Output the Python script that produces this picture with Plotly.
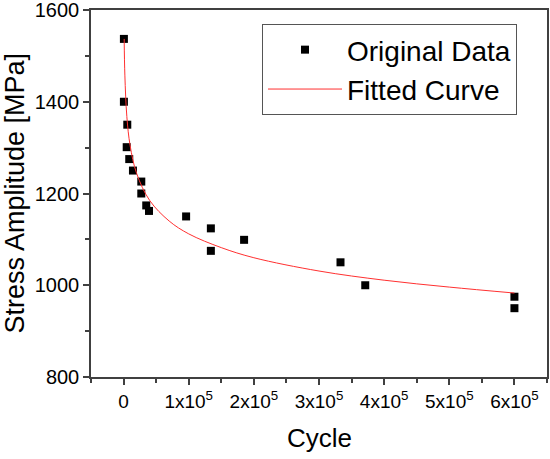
import plotly.graph_objects as go

# Data
cycles = [500, 500, 5700, 4800, 8700, 14400, 27200, 27200, 34800, 39000,
          96000, 134000, 134000, 185000, 333000, 371000, 600000, 600000]
stress = [1537, 1400, 1350, 1301, 1275, 1250, 1226, 1200, 1174, 1162,
          1150, 1124, 1075, 1099, 1050, 1000, 975, 950]

curve_cycles = [900, 2000, 5000, 10000, 20000, 40000, 70000, 100000,
                150000, 200000, 300000, 400000, 500000, 600000]
curve_stress = [1537, 1458, 1368, 1305, 1244, 1185, 1140, 1112,
                1082, 1060, 1031, 1011, 996, 983]

x_tickvals = [0, 100000, 200000, 300000, 400000, 500000, 600000]
x_ticktext = ["0", "1x10<sup>5</sup>", "2x10<sup>5</sup>", "3x10<sup>5</sup>",
              "4x10<sup>5</sup>", "5x10<sup>5</sup>", "6x10<sup>5</sup>"]

x_title = "Cycle"
y_title = "Stress Amplitude [MPa]"

FONT = "Arial, Liberation Sans, sans-serif"
AXC = "#404040"

W, H = 550, 459
ML, MR, MT, MB = 91, 3, 10, 82

fig = go.Figure()
fig.add_trace(go.Scatter(
    x=cycles, y=stress, mode="markers", name="Original Data",
    marker=dict(symbol="square", size=8, color="black"),
))
fig.add_trace(go.Scatter(
    x=curve_cycles, y=curve_stress, mode="lines", name="Fitted Curve",
    line=dict(color="#ff3030", width=1, shape="spline"),
))

plot_h = H - MT - MB
fig.update_layout(
    width=W, height=H,
    margin=dict(l=ML, r=MR, t=MT, b=MB, autoexpand=False),
    paper_bgcolor="white", plot_bgcolor="white",
    font=dict(family=FONT, color="black"),
    showlegend=True,
    legend=dict(
        x=0.375, y=0.962, xanchor="left", yanchor="top",
        bgcolor="white", bordercolor="#555555", borderwidth=1,
        font=dict(size=28, family=FONT, color="black"),
        itemwidth=74, tracegroupgap=0,
    ),
    xaxis=dict(
        range=[-50000, 650000], automargin=False, ticklabeloverflow="allow",
        tickvals=x_tickvals, ticktext=x_ticktext,
        ticks="outside", ticklen=6, tickwidth=1.5, tickcolor=AXC,
        minor=dict(dtick=50000, tick0=0, ticks="outside", ticklen=4,
                   tickwidth=1.5, tickcolor=AXC),
        showline=True, linecolor=AXC, linewidth=1.5, mirror=True,
        showgrid=False, zeroline=False,
        tickfont=dict(size=19, family=FONT, color="black"),
    ),
    yaxis=dict(
        range=[800, 1600], dtick=200, tick0=800, automargin=False,
        ticklabeloverflow="allow",
        ticks="outside", ticklen=6, tickwidth=1.5, tickcolor=AXC,
        minor=dict(dtick=100, tick0=800, ticks="outside", ticklen=4,
                   tickwidth=1.5, tickcolor=AXC),
        showline=True, linecolor=AXC, linewidth=1.5, mirror=True,
        showgrid=False, zeroline=False,
        tickfont=dict(size=20, family=FONT, color="black"),
    ),
    annotations=[
        dict(text=x_title, xref="paper", yref="paper",
             x=0.5, y=-(438 - MT - plot_h) / plot_h, xanchor="center", yanchor="middle",
             showarrow=False, font=dict(size=26, family=FONT, color="black")),
        dict(text=y_title, xref="paper", yref="paper", textangle=-90,
             x=-(ML - 14) / (W - ML - MR), y=0.5, xanchor="center", yanchor="middle",
             showarrow=False, font=dict(size=27, family=FONT, color="black")),
    ],
)

fig.write_html(
    "out.html",
    config={"displayModeBar": False},
    post_script="document.body.style.margin='0';document.body.style.padding='0';",
)
